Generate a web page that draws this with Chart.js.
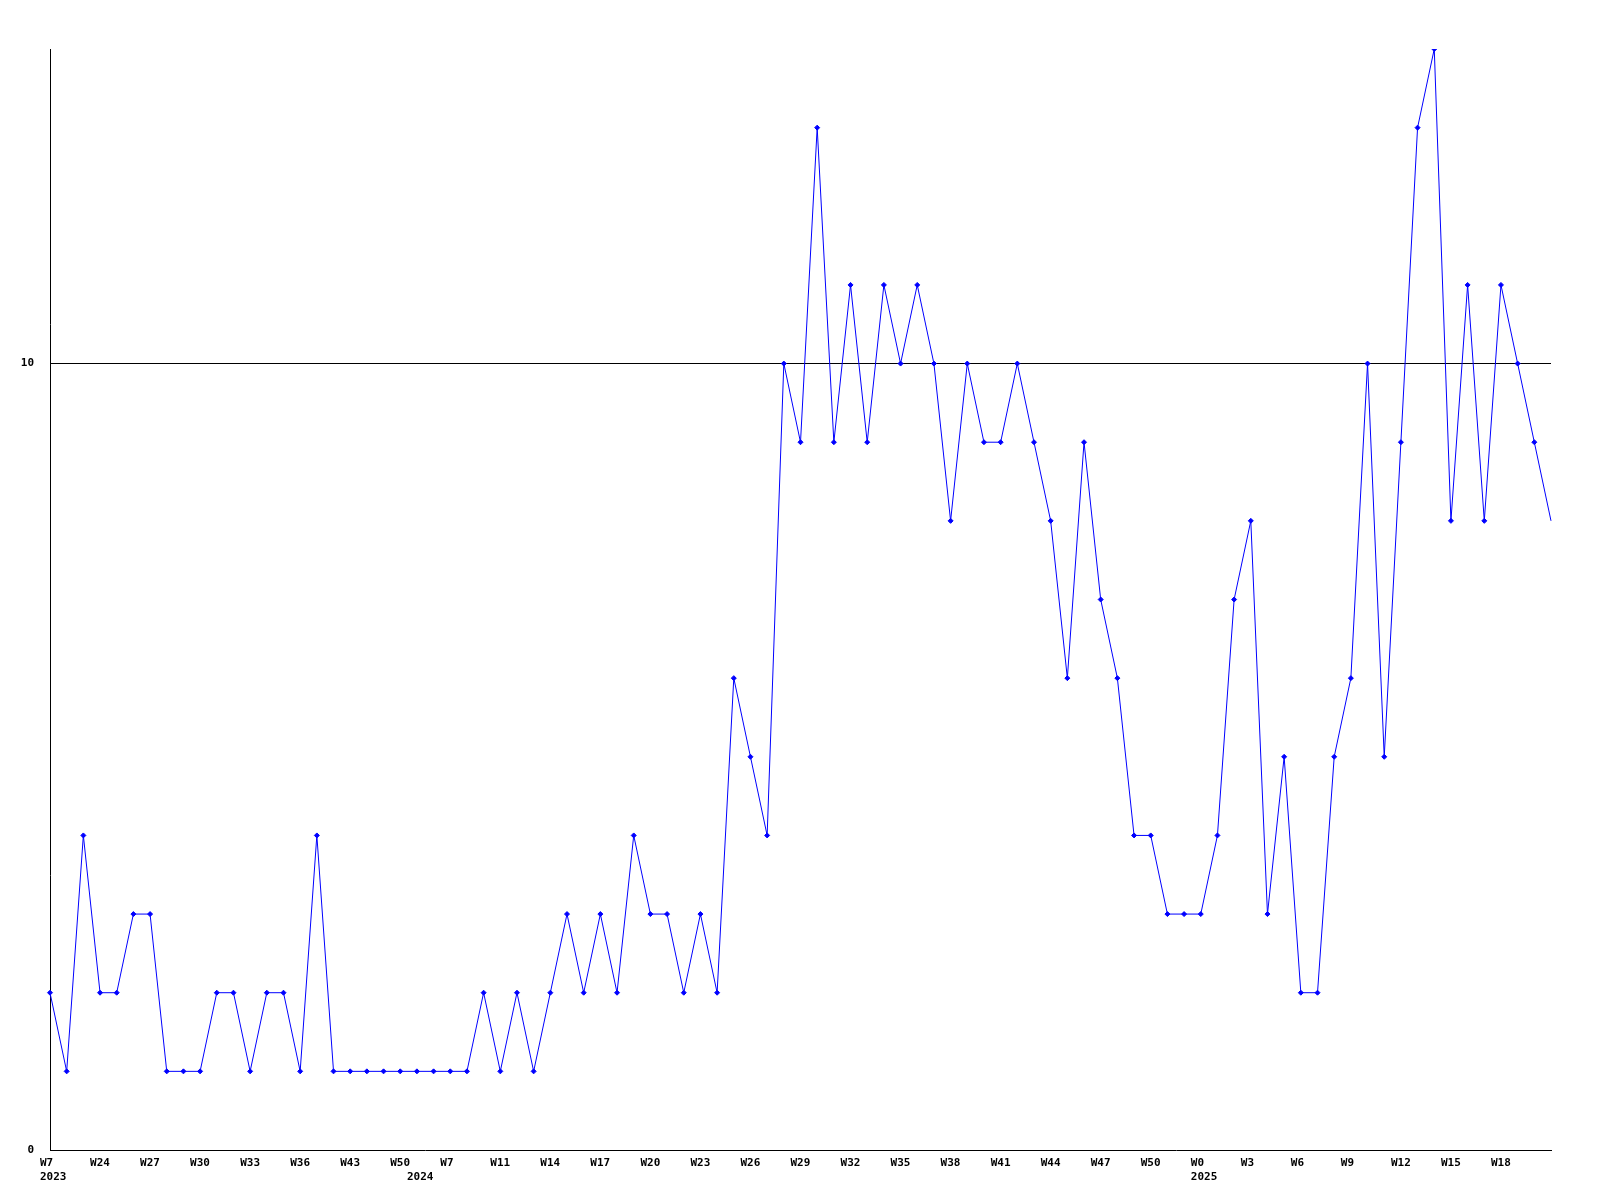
<!DOCTYPE html>
<html>
<head>
<meta charset="utf-8">
<script src="https://cdn.jsdelivr.net/npm/chart.js@4/dist/chart.umd.min.js"></script>
<style>
html,body{margin:0;padding:0;background:#fff;}
#wrap{width:1600px;height:1200px;}
</style>
</head>
<body>
<div id="wrap"><canvas id="c" width="1600" height="1200"></canvas></div>
<script>
// weekly series values (one per week, 91 points)
const values = [
  2,1,4,2,2,3,3,1,1,1,
  2,2,1,2,2,1,4,1,1,1,
  1,1,1,1,1,1,2,1,2,1,
  2,3,2,3,2,4,3,3,2,3,
  2,6,5,4,10,9,13,9,11,9,
  11,10,11,10,8,10,9,9,10,9,
  8,6,9,7,6,4,4,3,3,3,
  4,7,8,3,5,2,2,5,6,10,
  5,9,13,14,8,11,8,11,10,9,
  8
];
// week tick labels, one every third point
const weekTicks = ['W7','W24','W27','W30','W33','W36','W43','W50','W7','W11','W14','W17','W20','W23','W26','W29','W32','W35','W38','W41','W44','W47','W50','W0','W3','W6','W9','W12','W15','W18'];
const tickEvery = 3;
// year labels and the point index where each year label sits
const years = ['2023','2024','2025'];
const yearIndex = [0,22,69];
// y axis tick values
const yTicks = [0,10];

const labels = values.map((v,i) => {
  let w = '';
  if (i % tickEvery === 0 && i / tickEvery < weekTicks.length) w = weekTicks[i / tickEvery];
  const k = yearIndex.indexOf(i);
  const y = k >= 0 ? years[k] : '';
  return [w, y];
});

const font = {family: '"DejaVu Sans Mono", "Liberation Mono", monospace', size: 11, weight: 'bold', lineHeight: 1.3};

new Chart(document.getElementById('c'), {
  type: 'line',
  data: {
    labels: labels,
    datasets: [{
      data: values,
      borderColor: '#0000ff',
      backgroundColor: '#0000ff',
      borderWidth: 1,
      tension: 0,
      fill: false,
      pointStyle: 'rectRot',
      pointRadius: ctx => ctx.dataIndex === values.length - 1 ? 0 : 2.5,
      pointBorderWidth: 1,
      pointBorderColor: '#0000ff',
      pointBackgroundColor: '#0000ff'
    }]
  },
  options: {
    responsive: false,
    animation: false,
    devicePixelRatio: 1,
    layout: {padding: {top: 49, right: 49, left: 0, bottom: 0}},
    plugins: {legend: {display: false}, tooltip: {enabled: false}},
    scales: {
      x: {
        type: 'category',
        offset: false,
        grid: {display: false, drawTicks: false},
        border: {display: true, color: '#000', width: 1},
        ticks: {
          autoSkip: false,
          maxRotation: 0,
          minRotation: 0,
          align: 'start',
          labelOffset: -10,
          padding: 6,
          color: '#000',
          font: font
        },
        afterFit: s => { s.height = 50; }
      },
      y: {
        min: 0,
        max: 14,
        grid: {
          drawTicks: false,
          color: ctx => (ctx.tick && ctx.tick.value === 10) ? '#000' : 'rgba(0,0,0,0)',
          lineWidth: 1
        },
        border: {display: true, color: '#000', width: 1},
        ticks: {padding: 16, color: '#000', font: font},
        afterBuildTicks: s => { s.ticks = yTicks.map(v => ({value: v})); },
        afterFit: s => { s.width = 50; }
      }
    }
  }
});
</script>
</body>
</html>
